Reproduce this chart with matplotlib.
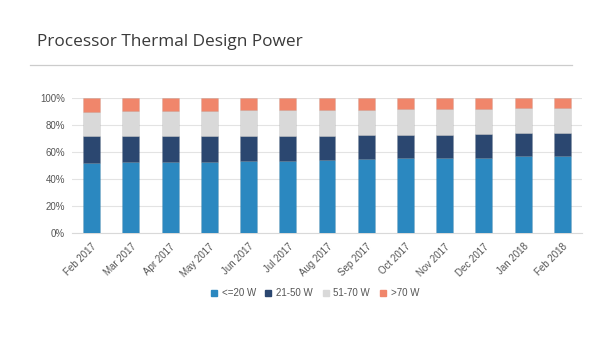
import matplotlib
matplotlib.use("Agg")
import matplotlib.pyplot as plt
from matplotlib.lines import Line2D
import numpy as np

categories = ["Feb 2017", "Mar 2017", "Apr 2017", "May 2017", "Jun 2017", "Jul 2017",
              "Aug 2017", "Sep 2017", "Oct 2017", "Nov 2017", "Dec 2017", "Jan 2018", "Feb 2018"]
le20 = [52.0, 52.6, 52.6, 52.6, 53.3, 53.8, 54.4, 54.8, 55.5, 56.0, 56.0, 56.8, 57.5]
w21_50 = [20.1, 19.5, 19.5, 19.5, 18.8, 18.3, 17.4, 17.5, 16.8, 16.3, 17.3, 17.0, 16.6]
w51_70 = [17.2, 18.0, 18.0, 18.0, 18.7, 18.7, 19.5, 19.0, 19.5, 19.5, 18.5, 18.5, 18.5]
gt70 = [10.7, 9.9, 9.9, 9.9, 9.2, 9.2, 8.7, 8.7, 8.2, 8.2, 8.2, 7.7, 7.4]
series_names = ["<=20 W", "21-50 W", "51-70 W", ">70 W"]
yticks = [0, 20, 40, 60, 80, 100]

colors = ["#2b88c0", "#2b4770", "#d9d9d9", "#f0866b"]

plt.rcParams['font.family'] = ['Open Sans', 'DejaVu Sans']

fig = plt.figure(figsize=(6.0, 3.51), dpi=100)
W, H = 600, 351
ax = fig.add_axes([72 / W, 1 - 233.3 / H, 510 / W, 135.3 / H])

x = np.arange(len(categories))
bottom = np.zeros(len(categories))
for vals, col, name in zip([le20, w21_50, w51_70, gt70], colors, series_names):
    v = np.array(vals)
    ax.bar(x, v, bottom=bottom, width=0.43, color=col, label=name,
           edgecolor=(0, 0, 0, 0.08), linewidth=0.5, zorder=3)
    bottom += v

ax.set_xlim(-0.5, len(categories) - 0.5)
ax.set_ylim(0, 100)
ax.set_yticks(yticks)
ax.set_yticklabels([f"{t}%" for t in yticks], fontsize=7, color="#555555",
                   family=['Liberation Sans', 'DejaVu Sans'])
ax.yaxis.grid(True, color="#e3e3e3", linewidth=0.8, zorder=0)
ax.tick_params(axis='y', length=0, pad=5)
ax.set_xticks(x)
ax.set_xticklabels(categories, rotation=45, ha='right', rotation_mode='anchor',
                   fontsize=7, color="#555555", family=['Liberation Sans', 'DejaVu Sans'])
ax.tick_params(axis='x', length=0, pad=6)
for s in ['top', 'right', 'left']:
    ax.spines[s].set_visible(False)
ax.spines['bottom'].set_color("#d9d9d9")
ax.spines['bottom'].set_linewidth(0.8)

# Title and separator line
fig.text(37 / W, 1 - 42 / H, "Processor Thermal Design Power", fontsize=12.4,
         color="#3a3a3a", va='center', ha='left')
fig.add_artist(Line2D([30 / W, 572 / W], [1 - 65 / H, 1 - 65 / H],
                      color="#cccccc", linewidth=0.9, transform=fig.transFigure))

handles = [Line2D([0], [0], marker='s', linestyle='', markersize=5,
                  markerfacecolor=c, markeredgecolor=c) for c in colors]
leg = fig.legend(handles, series_names, loc='center', bbox_to_anchor=(314 / W, 1 - 293 / H),
                 ncol=4, frameon=False, handletextpad=0.3, columnspacing=0.8,
                 handlelength=1.0, prop={'family': ['Liberation Sans', 'DejaVu Sans'], 'size': 7})
for t in leg.get_texts():
    t.set_color("#555555")

fig.savefig("out.png", dpi=100)
